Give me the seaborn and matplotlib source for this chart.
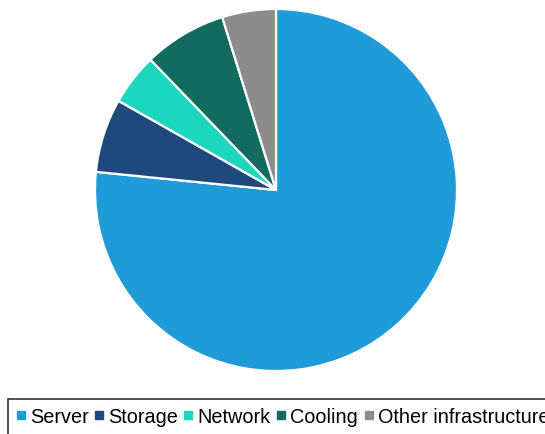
import matplotlib
matplotlib.use("Agg")
import matplotlib.pyplot as plt
from matplotlib.lines import Line2D
import seaborn as sns

# data (share of energy use, %)
categories = ["Server", "Storage", "Network", "Cooling", "Other infrastructure"]
shares = [76.6, 6.6, 4.6, 7.4, 4.8]
colors = ["#1F9BD7", "#1F497D", "#1DD6BE", "#116B5E", "#8C8C8C"]

sns.set_theme(style="white")
plt.rcParams["font.family"] = ["Liberation Sans", "DejaVu Sans"]

fig = plt.figure(figsize=(5.45, 4.35), dpi=100)
ax = fig.add_axes([95 / 545, 63 / 435, 362 / 545, 362 / 435])
ax.pie(
    shares,
    colors=colors,
    startangle=90,
    counterclock=False,
    wedgeprops={"edgecolor": "white", "linewidth": 1.6},
)
ax.set_xlim(-1, 1)
ax.set_ylim(-1, 1)
ax.set_aspect("equal")

handles = [
    Line2D([0], [0], marker="s", linestyle="", markersize=5.5,
           markerfacecolor=c, markeredgecolor=c)
    for c in colors
]
leg = fig.legend(
    handles, categories,
    loc="upper left", bbox_to_anchor=(8 / 545, 1 - 400 / 435),
    ncol=5, fontsize=14.3, frameon=True, fancybox=False,
    handlelength=0.42, handletextpad=0.25, columnspacing=0.32,
    borderpad=0.42, borderaxespad=0, labelcolor="black",
)
leg.get_frame().set_edgecolor("black")
leg.get_frame().set_linewidth(1.2)

fig.savefig("out.png", dpi=100)
